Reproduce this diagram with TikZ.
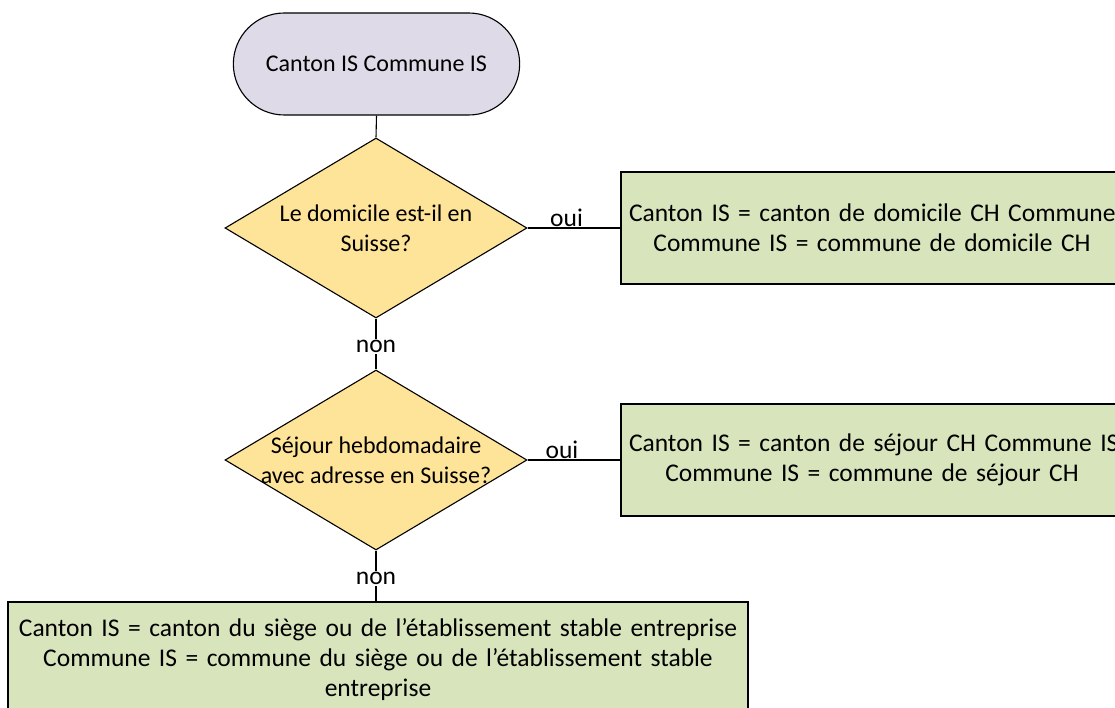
\documentclass[tikz,border=0pt]{standalone}
\usepackage{fontspec}
\setmainfont{Carlito}
\usetikzlibrary{shapes.geometric,shapes.misc}
\definecolor{termfill}{RGB}{223,218,232}
\definecolor{decfill}{RGB}{254,228,152}
\definecolor{boxfill}{RGB}{216,228,188}
\tikzset{
  terminal/.style={draw, line width=1.1pt, rounded rectangle, fill=termfill,
    minimum width=293pt, minimum height=102pt},
  decision/.style={draw, line width=1.1pt, diamond, fill=decfill,
    minimum width=302pt, minimum height=180pt, inner sep=0pt},
  result/.style={draw, line width=1.1pt, rectangle, fill=boxfill, align=center,
    inner xsep=8pt, inner ysep=0pt, font=\fontsize{25.5}{30}\selectfont},
  link/.style={draw, line width=1.1pt},
  answer/.style={fill=white, inner sep=1pt, font=\fontsize{25.5}{30}\selectfont},
}
\begin{document}
\begin{tikzpicture}[x=1pt,y=-1pt,font=\fontsize{24}{30}\selectfont]
\path[use as bounding box] (0,0) rectangle (1115,708);
\clip (0,0) rectangle (1115,708);

\node[terminal] (start) at (376.5,64) {Canton IS Commune IS};
\node[decision, label={[align=center]center:Le domicile est-il en\\Suisse?}] (dom) at (376,228) {};
\node[decision, label={[align=center]center:S\'ejour hebdomadaire\\avec adresse en Suisse?}] (sej) at (376,460) {};

\node[result, text width=486pt, minimum height=112pt] (boxdom) at (872,228)
  {\mbox{Canton IS = canton de domicile CH Commune IS}\\Commune IS = commune de domicile CH};
\node[result, text width=486pt, minimum height=112pt] (boxsej) at (872,460)
  {\mbox{Canton IS = canton de séjour CH Commune IS}\\Commune IS = commune de séjour CH};
\node[result, text width=724pt, minimum height=116pt] (boxsiege) at (378,660)
  {\mbox{Canton IS = canton du siège ou de l’établissement stable entreprise}\\Commune IS = commune du siège ou de l’établissement stable\\entreprise};

\draw[link] (start.south) -- (dom.north);
\draw[link] (dom.east) -- node[answer, above, fill=none, pos=0.42] {oui} (boxdom.west);
\draw[link] (dom.south) -- node[answer, pos=0.55] {non} (sej.north);
\draw[link] (sej.east) -- node[answer, above, fill=none, pos=0.37] {oui} (boxsej.west);
\draw[link] (sej.south) -- node[answer, pos=0.55] {non} (sej.south |- boxsiege.north);

\end{tikzpicture}
\end{document}
